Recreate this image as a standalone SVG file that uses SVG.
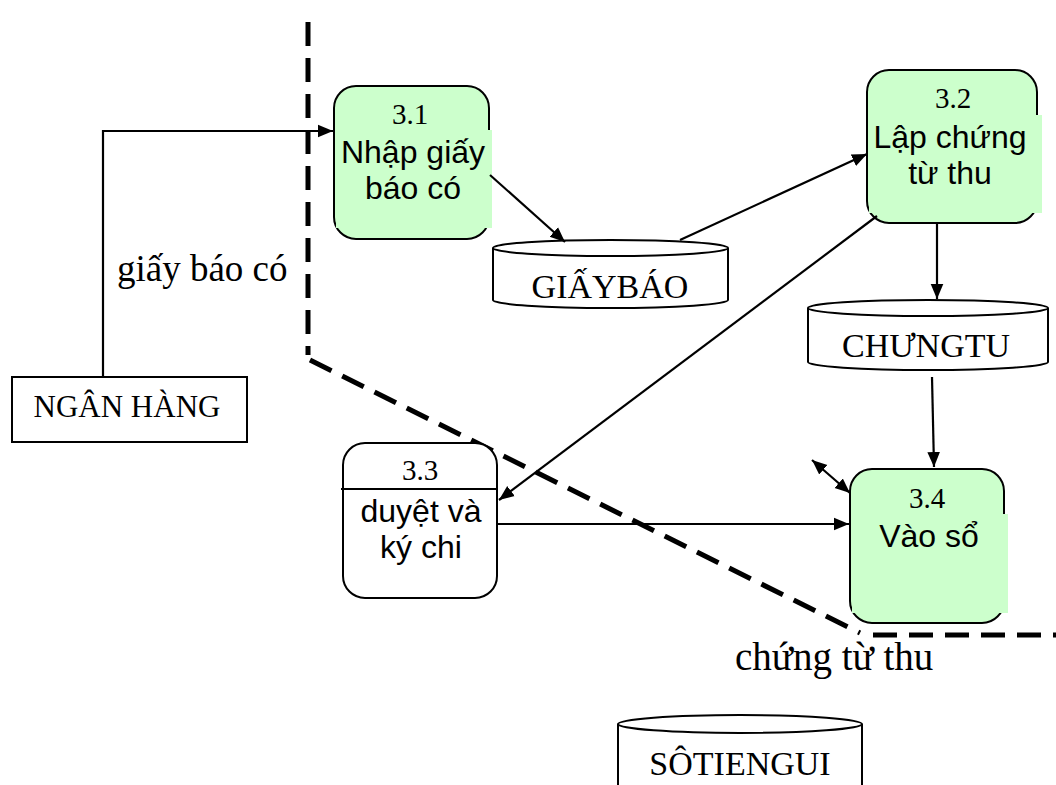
<svg xmlns="http://www.w3.org/2000/svg" width="1056" height="785" viewBox="0 0 1056 785">
  <style>
    .proc { stroke: #000; stroke-width: 2; }
    .green { fill: #ccffcc; }
    .fillg { fill: #ccffcc; stroke: none; }
    .num { font-family: "Liberation Serif", serif; font-size: 29px; text-anchor: middle; fill: #000; }
    .lbl { font-family: "Liberation Sans", Arial, sans-serif; font-size: 32px; text-anchor: middle; fill: #000; }
    .serif { font-family: "Liberation Serif", serif; font-size: 34px; fill: #000; }
    .flowlbl { font-family: "Liberation Serif", serif; font-size: 37px; fill: #000; }
    .store { fill: #fff; stroke: #000; stroke-width: 2; }
    .flow { fill: none; stroke: #000; stroke-width: 2.2; }
    .bound { fill: none; stroke: #000; stroke-width: 5; stroke-dasharray: 24 12; }
  </style>
  <defs>
    <marker id="arrow" viewBox="0 0 10 10" refX="10" refY="5" markerWidth="15" markerHeight="15" markerUnits="userSpaceOnUse" orient="auto">
      <path d="M0,0.8 L10,5 L0,9.2 z" fill="#000"/>
    </marker>
    <marker id="arrowStart" viewBox="0 0 10 10" refX="0" refY="5" markerWidth="15" markerHeight="15" markerUnits="userSpaceOnUse" orient="auto">
      <path d="M10,0.8 L0,5 L10,9.2 z" fill="#000"/>
    </marker>
  </defs>
  <rect width="1056" height="785" fill="#fff"/>

  <!-- system boundary -->
  <g id="boundary">
    <path class="bound" d="M308,22 L308,355"/>
    <path class="bound" d="M310,360 L860,633"/>
    <path class="bound" d="M873,635 L1056,635"/>
  </g>

  <!-- external entity -->
  <g id="ngan-hang">
    <rect x="12" y="377" width="235" height="65" fill="#fff" stroke="#000" stroke-width="2"/>
    <text x="127" y="417" text-anchor="middle" style="font-family:'Liberation Serif',serif;font-size:31px">NGÂN HÀNG</text>
  </g>

  <!-- processes -->
  <g id="p31">
    <rect class="proc green" x="334" y="86" width="155" height="153" rx="22"/>
    <rect class="fillg" x="336" y="130" width="156" height="98"/>
    <text class="num" x="410" y="124">3.1</text>
    <text class="lbl" x="413" y="163">Nhập giấy</text>
    <text class="lbl" x="413" y="199">báo có</text>
  </g>
  <g id="p32">
    <rect class="proc green" x="867" y="70" width="170" height="153" rx="22"/>
    <rect class="fillg" x="869" y="115" width="173" height="98"/>
    <text class="num" x="953" y="108">3.2</text>
    <text class="lbl" x="950" y="148">Lập chứng</text>
    <text class="lbl" x="950" y="184">từ thu</text>
  </g>
  <g id="p33">
    <rect class="proc" fill="#fff" x="343" y="443" width="154" height="155" rx="22"/>
    <line x1="341" y1="489" x2="497" y2="489" stroke="#000" stroke-width="2"/>
    <text class="num" x="420" y="480">3.3</text>
    <text class="lbl" x="421" y="522">duyệt và</text>
    <text class="lbl" x="421" y="558">ký chi</text>
  </g>
  <g id="p34">
    <rect class="proc green" x="850" y="469" width="154" height="154" rx="22"/>
    <rect class="fillg" x="852" y="514" width="156" height="99"/>
    <text class="num" x="927" y="508">3.4</text>
    <text class="lbl" x="929" y="547">Vào sổ</text>
  </g>

  <!-- data stores -->
  <g id="giaybao">
    <path class="store" d="M493,248 L493,300 A117.5,8 0 0 0 728,300 L728,248"/>
    <ellipse class="store" cx="610.5" cy="248" rx="117.5" ry="8"/>
    <text class="serif" x="610" y="298" text-anchor="middle">GIẤYBÁO</text>
  </g>
  <g id="chungtu">
    <path class="store" d="M808,308 L808,362 A120,8 0 0 0 1048,362 L1048,308"/>
    <ellipse class="store" cx="928" cy="308" rx="120" ry="8"/>
    <text class="serif" x="926" y="357" text-anchor="middle">CHƯNGTU</text>
  </g>
  <g id="sotiengui">
    <path class="store" d="M618,724 L618,790 L862,790 L862,724"/>
    <ellipse class="store" cx="740" cy="724" rx="122" ry="9"/>
    <text class="serif" x="740" y="775" text-anchor="middle">SÔTIENGUI</text>
  </g>

  <!-- data flows -->
  <g id="connectors">
    <path class="flow" d="M103,377 L103,131 L333,131" marker-end="url(#arrow)"/>
    <line class="flow" x1="490" y1="175" x2="565" y2="242" marker-end="url(#arrow)"/>
    <line class="flow" x1="680" y1="240" x2="867" y2="154" marker-end="url(#arrow)"/>
    <line class="flow" x1="877" y1="216" x2="499" y2="500" marker-end="url(#arrow)"/>
    <line class="flow" x1="937" y1="223" x2="937" y2="299" marker-end="url(#arrow)"/>
    <line class="flow" x1="932" y1="377" x2="934" y2="467" marker-end="url(#arrow)"/>
    <line class="flow" x1="497" y1="524" x2="849" y2="524" marker-end="url(#arrow)"/>
    <line class="flow" x1="812" y1="460" x2="850" y2="493" marker-start="url(#arrowStart)" marker-end="url(#arrow)"/>
    <text class="flowlbl" x="117" y="281">giấy báo có</text>
    <text class="flowlbl" x="735" y="670" style="font-size:39px">chứng từ thu</text>
  </g>
</svg>
